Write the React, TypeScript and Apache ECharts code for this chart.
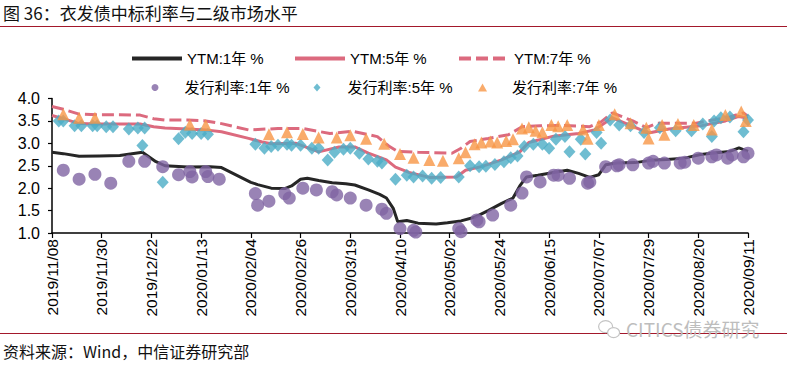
import React, { useEffect, useRef } from "react";
import * as echarts from "echarts";

// ---- axis ----
const startDate = "2019-11-08";
const endDay = 308;
const xTickStepDays = 22;
const yMin = 1.0;
const yMax = 4.0;
const yStep = 0.5;

// ---- legend names ----
const seriesNames = ["YTM:1年 %", "YTM:5年 %", "YTM:7年 %", "发行利率:1年 %", "发行利率:5年 %", "发行利率:7年 %"];

// ---- YTM 1Y ----
const ytm1Dates = ["2019-11-08","2019-11-13","2019-11-20","2019-11-29","2019-12-08","2019-12-18","2019-12-24","2019-12-28","2020-01-07","2020-01-17","2020-01-22","2020-02-04","2020-02-07","2020-02-13","2020-02-19","2020-02-22","2020-02-26","2020-02-29","2020-03-05","2020-03-11","2020-03-17","2020-03-21","2020-03-27","2020-04-01","2020-04-04","2020-04-07","2020-04-09","2020-04-13","2020-04-18","2020-04-26","2020-05-01","2020-05-07","2020-05-13","2020-05-19","2020-05-25","2020-05-30","2020-06-02","2020-06-05","2020-06-10","2020-06-17","2020-06-23","2020-06-28","2020-07-03","2020-07-07","2020-07-10","2020-07-15","2020-07-23","2020-07-30","2020-08-06","2020-08-14","2020-08-21","2020-08-28","2020-09-03","2020-09-07","2020-09-09","2020-09-11"];
const ytm1 = [2.80,2.77,2.71,2.72,2.73,2.80,2.59,2.50,2.47,2.48,2.46,2.13,2.08,2.00,1.99,2.05,2.20,2.22,2.17,2.12,2.10,2.07,1.96,1.86,1.78,1.55,1.25,1.28,1.22,1.20,1.23,1.27,1.35,1.50,1.66,1.78,2.05,2.25,2.29,2.35,2.40,2.33,2.24,2.30,2.52,2.56,2.57,2.62,2.64,2.67,2.75,2.79,2.82,2.90,2.86,2.82];

// ---- YTM 5Y ----
const ytm5Dates = ["2019-11-08","2019-11-13","2019-11-20","2019-11-28","2019-12-08","2019-12-17","2019-12-23","2019-12-28","2020-01-07","2020-01-15","2020-01-22","2020-02-03","2020-02-09","2020-02-13","2020-02-24","2020-03-05","2020-03-14","2020-03-21","2020-03-27","2020-04-04","2020-04-08","2020-04-14","2020-04-23","2020-05-05","2020-05-09","2020-05-16","2020-05-25","2020-06-02","2020-06-06","2020-06-17","2020-06-28","2020-07-05","2020-07-13","2020-07-21","2020-07-29","2020-08-07","2020-08-21","2020-09-01","2020-09-07","2020-09-11"];
const ytm5 = [3.62,3.55,3.44,3.43,3.43,3.43,3.37,3.34,3.32,3.30,3.26,3.11,3.03,2.99,3.00,2.81,2.92,2.92,2.78,2.63,2.47,2.35,2.24,2.25,2.40,2.48,2.63,2.81,3.02,3.16,3.22,3.30,3.57,3.40,3.23,3.32,3.39,3.50,3.60,3.56];

// ---- YTM 7Y ----
const ytm7Dates = ["2019-11-08","2019-11-13","2019-11-20","2019-11-28","2019-12-08","2019-12-17","2019-12-23","2019-12-28","2020-01-07","2020-01-15","2020-01-22","2020-01-27","2020-02-03","2020-02-16","2020-02-27","2020-03-10","2020-03-20","2020-03-31","2020-04-05","2020-04-09","2020-04-18","2020-05-03","2020-05-07","2020-05-11","2020-05-19","2020-05-28","2020-06-03","2020-06-11","2020-06-20","2020-07-03","2020-07-08","2020-07-13","2020-07-22","2020-07-28","2020-08-02","2020-08-19","2020-09-03","2020-09-09","2020-09-11"];
const ytm7 = [3.82,3.76,3.65,3.64,3.64,3.63,3.55,3.52,3.52,3.50,3.44,3.38,3.30,3.33,3.33,3.22,3.27,3.15,2.94,2.82,2.80,2.78,2.89,3.04,3.11,3.19,3.37,3.39,3.40,3.37,3.48,3.68,3.50,3.35,3.45,3.45,3.59,3.68,3.60];

// ---- issuance 1Y ----
const issue1Dates = ["2019-11-13","2019-11-20","2019-11-27","2019-12-04","2019-12-12","2019-12-19","2019-12-27","2020-01-03","2020-01-08","2020-01-09","2020-01-15","2020-01-16","2020-01-21","2020-02-06","2020-02-07","2020-02-12","2020-02-19","2020-02-21","2020-02-27","2020-03-04","2020-03-11","2020-03-13","2020-03-19","2020-03-26","2020-04-02","2020-04-04","2020-04-10","2020-04-16","2020-04-17","2020-05-06","2020-05-07","2020-05-14","2020-05-15","2020-05-21","2020-05-29","2020-06-03","2020-06-05","2020-06-11","2020-06-17","2020-06-19","2020-06-24","2020-07-02","2020-07-03","2020-07-10","2020-07-15","2020-07-16","2020-07-22","2020-07-29","2020-07-31","2020-08-05","2020-08-12","2020-08-14","2020-08-20","2020-08-26","2020-08-28","2020-09-02","2020-09-04","2020-09-09","2020-09-11"];
const issue1 = [2.40,2.20,2.31,2.11,2.60,2.60,2.48,2.30,2.37,2.25,2.37,2.26,2.20,1.88,1.62,1.71,1.88,1.78,2.00,1.96,1.92,1.85,1.78,1.62,1.53,1.44,1.10,1.06,1.02,1.10,1.03,1.29,1.25,1.40,1.62,1.89,2.25,2.14,2.29,2.29,2.22,2.11,2.14,2.48,2.50,2.52,2.52,2.56,2.60,2.56,2.56,2.58,2.67,2.70,2.74,2.67,2.74,2.70,2.78];

// ---- issuance 5Y ----
const issue5Dates = ["2019-11-11","2019-11-13","2019-11-18","2019-11-21","2019-11-26","2019-11-28","2019-12-02","2019-12-05","2019-12-12","2019-12-16","2019-12-18","2019-12-19","2019-12-27","2020-01-03","2020-01-06","2020-01-09","2020-01-13","2020-01-16","2020-02-06","2020-02-10","2020-02-13","2020-02-16","2020-02-20","2020-02-22","2020-02-26","2020-03-02","2020-03-05","2020-03-09","2020-03-12","2020-03-16","2020-03-19","2020-03-23","2020-03-27","2020-03-31","2020-04-02","2020-04-08","2020-04-13","2020-04-16","2020-04-20","2020-04-24","2020-04-28","2020-05-06","2020-05-11","2020-05-15","2020-05-18","2020-05-22","2020-05-26","2020-05-29","2020-06-01","2020-06-04","2020-06-08","2020-06-12","2020-06-15","2020-06-18","2020-06-22","2020-06-24","2020-06-29","2020-07-01","2020-07-06","2020-07-08","2020-07-12","2020-07-16","2020-07-21","2020-07-27","2020-08-03","2020-08-10","2020-08-17","2020-08-22","2020-08-26","2020-08-27","2020-08-30","2020-09-03","2020-09-09","2020-09-11"];
const issue5 = [3.50,3.50,3.39,3.39,3.39,3.39,3.37,3.37,3.32,3.34,2.95,3.34,2.13,3.10,3.25,3.22,3.22,3.20,2.98,2.89,2.93,2.96,2.98,2.96,2.96,2.89,2.89,2.63,2.80,2.87,2.89,2.78,2.65,2.60,2.56,2.20,2.29,2.25,2.27,2.22,2.24,2.25,2.50,2.48,2.49,2.53,2.59,2.68,2.72,2.93,2.98,2.98,2.89,3.09,3.15,2.81,3.09,2.76,3.24,3.00,3.52,3.41,3.39,3.24,3.35,3.28,3.28,3.43,3.15,3.50,3.57,3.59,3.26,3.52];

// ---- issuance 7Y ----
const issue7Dates = ["2019-11-13","2019-11-20","2019-11-27","2020-01-08","2020-01-15","2020-02-12","2020-02-20","2020-02-27","2020-03-05","2020-03-13","2020-03-19","2020-03-26","2020-04-03","2020-04-10","2020-04-16","2020-04-23","2020-04-29","2020-05-06","2020-05-09","2020-05-13","2020-05-16","2020-05-20","2020-05-23","2020-05-27","2020-05-30","2020-06-03","2020-06-06","2020-06-09","2020-06-12","2020-06-16","2020-06-19","2020-06-23","2020-06-30","2020-07-02","2020-07-07","2020-07-14","2020-07-21","2020-07-28","2020-07-29","2020-08-04","2020-08-05","2020-08-11","2020-08-18","2020-08-26","2020-09-01","2020-09-08","2020-09-10"];
const issue7 = [3.65,3.57,3.57,3.42,3.41,3.20,3.25,3.21,3.13,3.13,3.18,3.10,2.99,2.76,2.68,2.63,2.61,2.67,2.80,2.98,3.02,3.04,3.02,3.05,3.09,3.33,3.36,3.28,3.25,3.41,3.38,3.41,3.31,3.10,3.41,3.65,3.45,3.35,3.11,3.41,3.19,3.43,3.41,3.31,3.63,3.71,3.50];

// ---- texts ----
const titleText = "图 36：衣发债中标利率与二级市场水平";
const sourceText = "资料来源：Wind，中信证券研究部";
const watermarkText = "CITICS债券研究";

const DAY_MS = 86400000;
const t0 = Date.parse(startDate);
const toDay = (d: string) => Math.round((Date.parse(d) - t0) / DAY_MS);
const pad = (n: number) => (n < 10 ? "0" + n : "" + n);
const fmtDay = (v: number) => {
  const dt = new Date(t0 + Math.round(v) * DAY_MS);
  return `${dt.getUTCFullYear()}/${pad(dt.getUTCMonth() + 1)}/${pad(dt.getUTCDate())}`;
};
const pairs = (ds: string[], vs: number[]) => ds.map((d, i) => [toDay(d), vs[i]]);

const FONT = "'Liberation Sans', Arial, 'Noto Sans CJK SC', sans-serif";
const CJK = "'Noto Sans CJK SC', sans-serif";
const C_BLACK = "#262626";
const C_PINK = "#dc6a7e";
const C_PURPLE = "#8064a2";
const C_TEAL = "#4bacc6";
const C_ORANGE = "#f79646";
const C_RED = "#a3182b";

export default function App() {
  const ref = useRef<HTMLDivElement>(null);
  useEffect(() => {
    if (!ref.current) return;
    const chart = echarts.init(ref.current, undefined, { renderer: "svg" });
    const textStyle = { fontSize: 15, color: "#000", fontFamily: FONT };
    const lineLegend = {
      padding: 0,
      itemGap: 0,
      selectedMode: false,
      itemWidth: 50,
      itemHeight: 14,
      textStyle,
      lineStyle: { width: 4 },
      itemStyle: { opacity: 0 },
    };
    const symLegend = (gap: number) => ({
      padding: 0,
      itemGap: 0,
      selectedMode: false,
      textStyle: { ...textStyle, rich: { g: { width: gap, fontSize: 15 } } },
      formatter: (name: string) => "{g| }" + name,
    });
    const option: any = {
      animation: false,
      backgroundColor: "#fff",
      grid: { left: 52, right: 39, top: 98.5, bottom: 136, containLabel: false },
      legend: [
        { ...lineLegend, data: [seriesNames[0]], left: 130, top: 51 },
        { ...lineLegend, data: [seriesNames[1]], left: 293, top: 51 },
        { ...lineLegend, data: [seriesNames[2]], left: 457, top: 51 },
        { ...symLegend(21), data: [seriesNames[3]], left: 151.5, top: 80, itemWidth: 7, itemHeight: 7 },
        { ...symLegend(22), data: [seriesNames[4]], left: 313.5, top: 80, itemWidth: 7, itemHeight: 8 },
        { ...symLegend(20), data: [seriesNames[5]], left: 478, top: 80, itemWidth: 9, itemHeight: 8 },
      ],
      xAxis: {
        type: "value",
        min: 0,
        max: endDay,
        interval: xTickStepDays,
        axisLine: { show: true, lineStyle: { color: "#000", width: 1.5 } },
        axisTick: { show: true, length: 5, lineStyle: { color: "#000", width: 1.2 } },
        axisLabel: {
          rotate: 90,
          formatter: (v: number) => fmtDay(v),
          fontSize: 15.5,
          color: "#000",
          fontFamily: FONT,
          margin: 6,
          showMinLabel: true,
          showMaxLabel: true,
        },
        splitLine: { show: false },
      },
      yAxis: {
        type: "value",
        min: yMin,
        max: yMax,
        interval: yStep,
        axisLine: { show: true, lineStyle: { color: "#000", width: 1.5 } },
        axisTick: { show: true, length: 4, lineStyle: { color: "#000", width: 1.2 } },
        axisLabel: {
          formatter: (v: number) => v.toFixed(1),
          fontSize: 16,
          color: "#000",
          fontFamily: FONT,
          margin: 12,
        },
        splitLine: { show: false },
      },
      series: [
        {
          name: seriesNames[0], type: "line", symbol: "none", z: 2,
          data: pairs(ytm1Dates, ytm1),
          color: C_BLACK,
          lineStyle: { color: C_BLACK, width: 3 },
        },
        {
          name: seriesNames[1], type: "line", symbol: "none", z: 2,
          data: pairs(ytm5Dates, ytm5),
          color: C_PINK,
          lineStyle: { color: C_PINK, width: 3 },
        },
        {
          name: seriesNames[2], type: "line", symbol: "none", z: 2,
          data: pairs(ytm7Dates, ytm7),
          color: C_PINK,
          lineStyle: { color: C_PINK, width: 3, type: [12, 5] },
        },
        {
          name: seriesNames[3], type: "scatter", symbol: "circle", symbolSize: 13, z: 3,
          data: pairs(issue1Dates, issue1),
          itemStyle: { color: C_PURPLE },
        },
        {
          name: seriesNames[4], type: "scatter", symbol: "diamond", symbolSize: [12, 13], z: 3,
          data: pairs(issue5Dates, issue5),
          itemStyle: { color: C_TEAL },
        },
        {
          name: seriesNames[5], type: "scatter", symbol: "triangle", symbolSize: 12, z: 3,
          data: pairs(issue7Dates, issue7),
          itemStyle: { color: C_ORANGE },
        },
      ],
      graphic: [
        {
          type: "text", left: 3, top: 4,
          style: { text: titleText, fontSize: 17, fill: "#111", fontFamily: CJK },
        },
        {
          type: "line", shape: { x1: 0, y1: 26.5, x2: 787, y2: 26.5 },
          style: { stroke: C_RED, lineWidth: 1 },
        },
        {
          type: "line", shape: { x1: 0, y1: 333.5, x2: 787, y2: 333.5 },
          style: { stroke: C_RED, lineWidth: 1 },
        },
        {
          type: "text", left: 3, top: 343,
          style: { text: sourceText, fontSize: 16, fill: "#111", fontFamily: CJK },
        },
        {
          type: "group", left: 598, top: 320,
          children: [
            { type: "ellipse", shape: { cx: 8, cy: 8, rx: 7, ry: 6 }, style: { fill: "#fff", stroke: "#c4c4c4", lineWidth: 1.2 } },
            { type: "ellipse", shape: { cx: 16, cy: 14, rx: 6, ry: 5 }, style: { fill: "#fff", stroke: "#c4c4c4", lineWidth: 1.2 } },
          ],
        },
        {
          type: "text", left: 626, top: 319,
          style: { text: watermarkText, fontSize: 19, fill: "#bdbdbd", fontFamily: CJK },
        },
      ],
    };
    chart.setOption(option);
    return () => chart.dispose();
  }, []);
  return (
    <div
      ref={ref}
      style={{ position: "fixed", left: 0, top: 0, width: 787, height: 369, background: "#fff" }}
    />
  );
}
